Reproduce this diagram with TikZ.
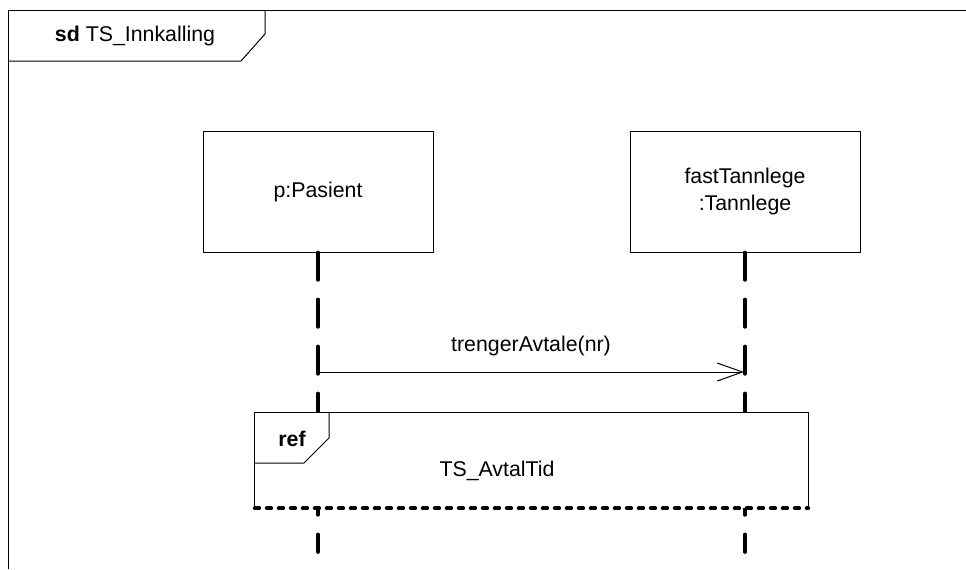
\documentclass[tikz,border=0pt]{standalone}
\usepackage{fontspec}
\setmainfont{Liberation Sans}
\usetikzlibrary{arrows.meta}

\tikzset{
  uml/.style={font=\fontsize{16pt}{20pt}\selectfont},
  thinline/.style={line width=0.75pt, draw=black},
  lifeline/.style={line width=2.8pt, line cap=round, dash pattern=on 20.5pt off 14.75pt},
  fragbottom/.style={line width=2.8pt, line cap=round, dash pattern=on 3.4pt off 5.6pt},
  objbox/.style={uml, draw, thinline, fill=white, align=center, inner sep=0pt,
                 minimum width=172.5pt, minimum height=90.75pt},
  msg/.style={thinline, -{Straight Barb[length=19pt, width=13.5pt, line width=0.75pt]}},
  label/.style={uml, inner sep=0pt},
}

\begin{document}
\begin{tikzpicture}[x=0.75pt, y=-0.75pt]
  \useasboundingbox (0,0) rectangle (966,569);

  % diagram frame with its name tab
  \draw[thinline] (8,569) -- (8,10) -- (966,10);
  \draw[thinline] (8,61) -- (241,61) -- (265,34) -- (265,10);
  \node[label, anchor=center] (sdname) at (135,36) {\textbf{sd} TS\_Innkalling};

  % participants
  \node[objbox] (p) at (318,191.5) {p:Pasient};
  \node[objbox] (t) at (745,191.5) {fastTannlege\\:Tannlege};

  % lifelines
  \coordinate (pend) at (318,552);
  \coordinate (tend) at (745,552);
  \draw[lifeline] (p.south) -- (pend);
  \draw[lifeline] (t.south) -- (tend);

  % message
  \coordinate (ms) at (318,372);
  \coordinate (me) at (744,372);
  \draw[msg] (ms) -- (me);
  \node[label] (mlabel) at (531,346) {trengerAvtale(nr)};

  % interaction use (ref)
  \node[fill=white, inner sep=0pt, minimum width=414.75pt, minimum height=71.25pt] (ref) at (531.5,460.5) {};
  \draw[thinline] (ref.south west) -- (ref.north west) -- (ref.north east) -- (ref.south east);
  \draw[fragbottom] (ref.south west) -- (ref.south east);
  \draw[thinline] (255,463) -- (304,463) -- (329,438) -- (329,413);
  \node[label] (reftag) at (292,439) {\textbf{ref}};
  \node[label] (refname) at (497,471) {TS\_AvtalTid};
\end{tikzpicture}
\end{document}
